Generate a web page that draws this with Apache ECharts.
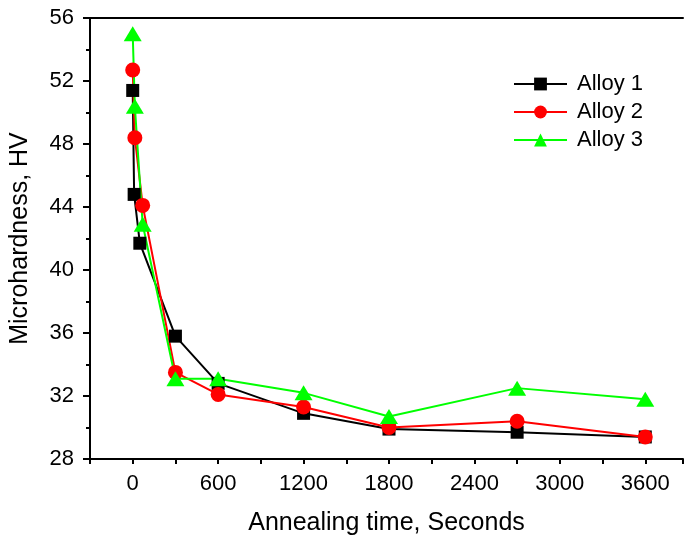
<!DOCTYPE html>
<html>
<head>
<meta charset="utf-8">
<style>
  html, body { margin: 0; padding: 0; background: #fff; }
  #chart { width: 686px; height: 541px; }
</style>
<script src="https://cdn.jsdelivr.net/npm/echarts@6/dist/echarts.min.js"></script>
</head>
<body>
<div id="chart"></div>
<script>
// annealing time (s) and microhardness (HV)
var alloy1Time = [0, 10, 50, 300, 600, 1200, 1800, 2700, 3600];
var alloy1HV   = [51.4, 44.8, 41.7, 35.8, 32.8, 30.9, 29.9, 29.7, 29.4];
var alloy2Time = [0, 15, 70, 300, 600, 1200, 1800, 2700, 3600];
var alloy2HV   = [52.7, 48.4, 44.1, 33.5, 32.1, 31.3, 30.0, 30.4, 29.4];
var alloy3Time = [0, 15, 70, 300, 600, 1200, 1800, 2700, 3600];
var alloy3HV   = [55.0, 50.4, 42.9, 33.1, 33.1, 32.2, 30.7, 32.5, 31.8];

var seriesNames = ['Alloy 1', 'Alloy 2', 'Alloy 3'];
var seriesColors = ['#000000', '#ff0000', '#00ff00'];

function pairs(xs, ys) {
  var out = [];
  for (var i = 0; i < xs.length; i++) out.push([xs[i], ys[i]]);
  return out;
}

var fontFam = '"Liberation Sans", Arial, sans-serif';
var chart = echarts.init(document.getElementById('chart'));

var option = {
  animation: false,
  backgroundColor: '#fff',
  color: seriesColors,
  grid: { left: 90, top: 18, right: 0, bottom: 81 },
  legend: {
    orient: 'vertical',
    left: 513, top: 73, padding: 0,
    itemWidth: 53, itemHeight: 16, itemGap: 6,
    textStyle: { fontSize: 22, fontFamily: fontFam, color: '#000', padding: [0, 0, 0, 5] },
    data: seriesNames
  },
  xAxis: [{
    type: 'value',
    min: -300, max: 3865, interval: 300,
    name: 'Annealing time, Seconds',
    nameLocation: 'middle', nameGap: 52,
    nameTextStyle: { fontSize: 25, fontFamily: fontFam, color: '#000' },
    axisLine: { show: true, onZero: false, lineStyle: { color: '#000', width: 2 } },
    axisTick: { show: true, inside: false, length: 5, lineStyle: { color: '#000', width: 2 } },
    axisLabel: {
      fontSize: 22, fontFamily: fontFam, color: '#000', margin: 14,
      formatter: function (v) { return (v % 600 === 0) ? String(v) : ''; }
    },
    splitLine: { show: false }
  }, {
    // top frame line
    type: 'value', position: 'top',
    min: -300, max: 3865,
    axisLine: { show: true, onZero: false, lineStyle: { color: '#000', width: 2 } },
    axisTick: { show: false },
    axisLabel: { show: false },
    splitLine: { show: false }
  }],
  yAxis: {
    type: 'value',
    min: 28, max: 56, interval: 4,
    name: 'Microhardness, HV',
    nameLocation: 'middle', nameGap: 57,
    nameTextStyle: { fontSize: 25, fontFamily: fontFam, color: '#000' },
    axisLine: { show: true, onZero: false, lineStyle: { color: '#000', width: 2 } },
    axisTick: { show: true, inside: false, length: 7, lineStyle: { color: '#000', width: 2 } },
    minorTick: { show: true, splitNumber: 2, length: 4, lineStyle: { color: '#000', width: 2 } },
    axisLabel: { fontSize: 22, fontFamily: fontFam, color: '#000', margin: 16 },
    splitLine: { show: false }
  },
  series: [
    {
      name: seriesNames[0], type: 'line',
      data: pairs(alloy1Time, alloy1HV),
      symbol: 'rect', symbolSize: 13,
      lineStyle: { width: 2 }
    },
    {
      name: seriesNames[1], type: 'line',
      data: pairs(alloy2Time, alloy2HV),
      symbol: 'circle', symbolSize: 15,
      lineStyle: { width: 2 }
    },
    {
      name: seriesNames[2], type: 'line',
      data: pairs(alloy3Time, alloy3HV),
      symbol: 'triangle', symbolSize: [18, 15],
      lineStyle: { width: 2 }
    }
  ]
};

chart.setOption(option);
</script>
</body>
</html>
